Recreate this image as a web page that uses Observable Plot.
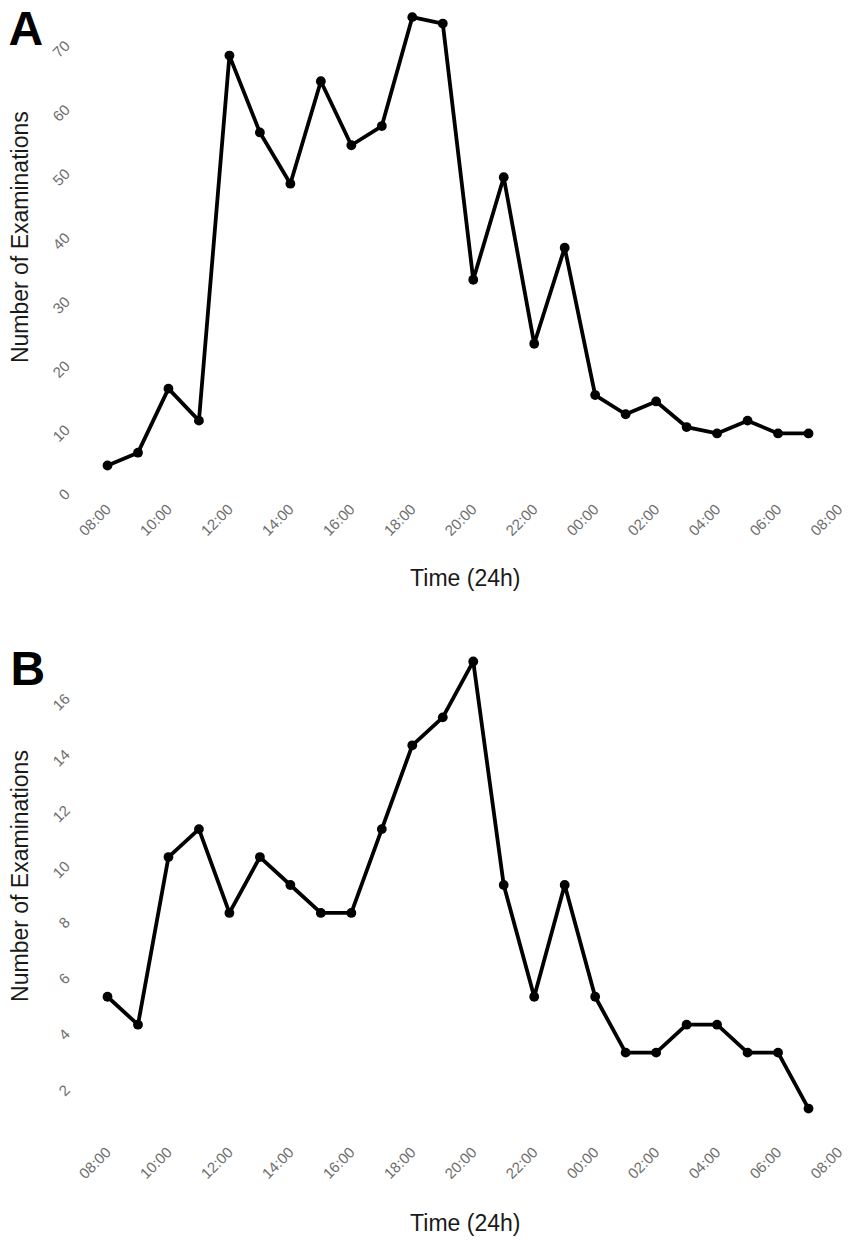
<!DOCTYPE html>
<html>
<head>
<meta charset="utf-8">
<script src="https://cdn.jsdelivr.net/npm/d3@7"></script>
<script src="https://cdn.jsdelivr.net/npm/@observablehq/plot@0.6"></script>
<style>
  body { margin: 0; background: #fff; }
  #chart { width: 850px; }
  #chart svg { display: block; }
</style>
</head>
<body>
<div id="chart"></div>
<script>
// Hourly categories (08:00 through 07:00 next day)
const hours = ["08:00","09:00","10:00","11:00","12:00","13:00","14:00","15:00","16:00","17:00","18:00","19:00",
               "20:00","21:00","22:00","23:00","00:00","01:00","02:00","03:00","04:00","05:00","06:00","07:00"];
// Panel A series
const examsA = [3, 5, 15, 10, 67, 55, 47, 63, 53, 56, 73, 72, 32, 48, 22, 37, 14, 11, 13, 9, 8, 10, 8, 8];
// Panel B series
const examsB = [5, 4, 10, 11, 8, 10, 9, 8, 8, 11, 14, 15, 17, 9, 5, 9, 5, 3, 3, 4, 4, 3, 3, 1];
// X tick positions (hours after 08:00) and their labels
const xTickPos = [0, 2, 4, 6, 8, 10, 12, 14, 16, 18, 20, 22, 24];
const xTickLabels = ["08:00","10:00","12:00","14:00","16:00","18:00","20:00","22:00","00:00","02:00","04:00","06:00","08:00"];
// Y ticks
const yTicksA = [0, 10, 20, 30, 40, 50, 60, 70];
const yTicksB = [2, 4, 6, 8, 10, 12, 14, 16];
const panelLetters = ["A", "B"];
const xTitle = "Time (24h)";
const yTitle = "Number of Examinations";

const FONT = "'Liberation Sans', Arial, Helvetica, sans-serif";

function panel(values, yTicks, yDomain, letter, cfg) {
  const data = hours.map((h, i) => ({ t: hours.indexOf(h), v: values[i] }));
  return Plot.plot({
    width: 850,
    height: 624,
    marginLeft: 107,
    marginRight: 11.5,
    marginTop: cfg.mt,
    marginBottom: cfg.mb,
    style: { fontFamily: FONT, background: "#fff", overflow: "visible" },
    x: { domain: [0, 24] },
    y: { domain: yDomain },
    marks: [
      Plot.axisX({
        ticks: xTickPos,
        tickFormat: d => xTickLabels[xTickPos.indexOf(d)],
        tickSize: 0, tickPadding: 17, tickRotate: -45, dx: 1, dy: 2,
        fontSize: 15, fill: "#6e6e6e", label: null
      }),
      Plot.axisY({
        ticks: yTicks,
        tickSize: 0, tickPadding: 40, tickRotate: -45, dy: 7,
        fontSize: 15, fill: "#6e6e6e", label: null
      }),
      Plot.line(data, { x: "t", y: "v", stroke: "#000", strokeWidth: 3.8, strokeLinejoin: "round" }),
      Plot.dot(data, { x: "t", y: "v", r: 4.9, fill: "#000", stroke: "none" }),
      Plot.text([xTitle], { frameAnchor: "bottom", textAnchor: "middle", dx: -8, dy: cfg.xTitleDy, fontSize: 23, fill: "#1a1a1a" }),
      Plot.text([yTitle], { frameAnchor: "left", textAnchor: "middle", dx: -87, dy: cfg.yTitleDy, rotate: -90, fontSize: 23, fill: "#1a1a1a" }),
      Plot.text([letter], { frameAnchor: "top-left", textAnchor: "start", lineAnchor: "top",
        dx: cfg.letterDx, dy: cfg.letterDy, fontSize: 48, fontWeight: "bold", fill: "#000" })
    ]
  });
}

const chart = document.getElementById("chart");
chart.appendChild(panel(examsA, yTicksA, [-0.5, 75.6], panelLetters[0],
  { mt: 0, mb: 136.6, xTitleDy: 98, yTitleDy: -7, letterDx: -99, letterDy: 10 }));
chart.appendChild(panel(examsB, yTicksB, [0.2, 17.8], panelLetters[1],
  { mt: 14.6, mb: 117.6, xTitleDy: 100, yTitleDy: -9, letterDx: -97, letterDy: 11.4 }));
</script>
</body>
</html>
